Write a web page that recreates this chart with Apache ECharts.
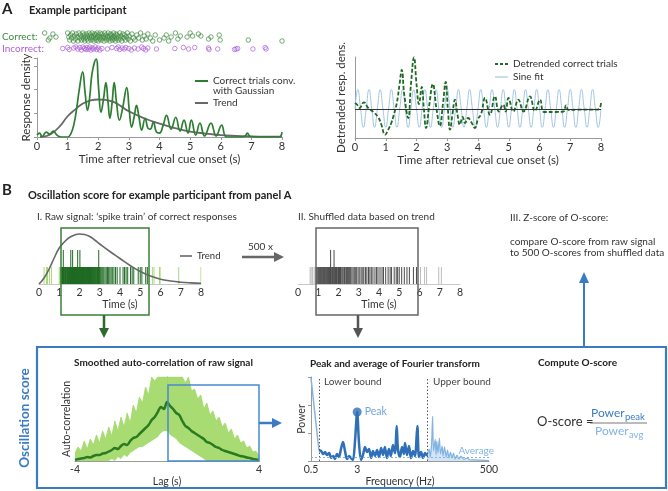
<!DOCTYPE html>
<html><head><meta charset="utf-8">
<script src="https://cdn.jsdelivr.net/npm/echarts@6/dist/echarts.min.js"></script>
<style>html,body{margin:0;padding:0;background:#fff}#c{width:668px;height:491px}</style>
</head><body><div id="c"></div>
<script>
// ---------------- DATA ----------------
const timeTicks = [0,1,2,3,4,5,6,7,8];
// Panel A: individual responses [time (s), vertical jitter 0..1]
const correctTrials = [
[0.25,0.1],[0.37,0.8],[0.42,0.6],[0.52,0.2],[0.62,0.5],
[1.00,0.1],[1.04,0.5],[1.07,0.8],[1.10,0.3],[1.13,0.6],[1.16,0.1],[1.19,0.9],[1.22,0.4],[1.25,0.7],[1.28,0.2],
[1.31,0.5],[1.34,0.9],[1.37,0.1],[1.40,0.6],[1.42,0.3],[1.45,0.8],[1.47,0.5],[1.50,0.1],[1.52,0.7],[1.54,0.3],
[1.56,0.9],[1.58,0.5],[1.61,0.2],[1.63,0.7],[1.65,0.4],[1.67,0.9],[1.70,0.1],[1.72,0.6],[1.74,0.3],[1.76,0.8],
[1.78,0.5],[1.80,0.1],[1.82,0.7],[1.84,0.4],[1.86,0.9],[1.88,0.2],[1.90,0.6],[1.92,0.3],[1.94,0.8],[1.96,0.1],
[1.98,0.5],[2.00,0.9],[2.02,0.3],[2.04,0.7],[2.06,0.1],[2.08,0.5],[2.10,0.8],[2.12,0.2],[2.15,0.6],[2.17,0.4],
[2.19,0.9],[2.21,0.1],[2.23,0.6],[2.25,0.3],[2.27,0.8],[2.30,0.5],[2.32,0.1],[2.34,0.7],[2.36,0.4],[2.38,0.9],
[2.40,0.2],[2.42,0.6],[2.44,0.3],[2.46,0.8],[2.48,0.5],[2.50,0.1],[2.52,0.7],[2.54,0.4],[2.56,0.9],[2.58,0.2],
[2.60,0.6],[2.62,0.3],[2.65,0.8],[2.67,0.5],[2.70,0.1],[2.72,0.7],[2.75,0.4],[2.77,0.9],[2.80,0.2],[2.83,0.6],
[2.86,0.3],[2.89,0.8],[2.92,0.5],[2.95,0.1],[2.98,0.7],[3.01,0.4],[3.05,0.9],[3.10,0.2],[3.15,0.6],[3.20,0.8],
[3.26,0.3],[3.32,0.6],[3.38,0.1],[3.44,0.8],[3.50,0.4],[3.56,0.7],[3.62,0.2],[3.70,0.6],[3.78,0.9],[3.86,0.3],
[4.00,0.8],[4.15,0.6],[4.22,0.3],[4.30,0.9],[4.38,0.5],[4.52,0.1],[4.60,0.7],[4.68,0.4],[4.90,0.5],[5.00,0.1],
[5.08,0.4],[5.27,0.2],[5.35,0.4],[5.60,0.7],[5.68,0.5],[5.95,0.3],[5.98,0.8],[6.90,0.8],[8.00,0.9]
];
const incorrectTrials = [
[0.84,0.5],[1.00,0.3],[1.05,0.7],[1.20,0.4],[1.27,0.2],[1.33,0.6],[1.40,0.3],[1.45,0.8],[1.50,0.2],[1.55,0.5],
[1.60,0.7],[1.63,0.3],[1.68,0.6],[1.72,0.2],[1.76,0.8],[1.80,0.4],[1.85,0.6],[1.90,0.2],[1.95,0.7],[2.00,0.4],
[2.05,0.8],[2.12,0.5],[2.30,0.6],[2.45,0.3],[2.60,0.5],[2.65,0.2],[2.70,0.7],[2.78,0.4],[2.85,0.6],[2.90,0.3],
[3.00,0.5],[3.08,0.8],[3.18,0.4],[3.30,0.6],[3.42,0.2],[3.48,0.5],[3.55,0.8],[3.62,0.4],[3.90,0.6],[4.50,0.5],
[4.78,0.3],[4.95,0.6],[5.15,0.3],[5.60,0.4],[5.62,0.7],[5.90,0.6],[6.45,0.7],[6.50,0.6],[6.55,0.5],[7.05,0.6],
[7.45,0.3],[7.48,0.6]
];
// Correct trials convolved with Gaussian [t, density]
const densityCurve = [
[0,2],[0.08,4],[0.17,0.5],[0.3,5],[0.42,3],[0.53,6],[0.65,2],[0.75,0.3],[0.85,0],[1.0,0],[1.1,3],[1.2,12],
[1.3,30],[1.38,48],[1.49,66],[1.57,45],[1.65,27],[1.72,40],[1.8,65],[1.93,79],[2.01,50],[2.09,25],[2.17,38],
[2.25,55],[2.32,35],[2.38,19],[2.45,34],[2.52,55],[2.6,34],[2.69,17],[2.8,30],[2.93,50],[3.01,28],[3.09,10],
[3.17,20],[3.25,32],[3.33,20],[3.42,7],[3.53,19],[3.62,9],[3.7,8],[3.8,15],[3.9,5],[4.0,4],[4.12,12],[4.23,22],
[4.38,8],[4.53,20],[4.67,6],[4.8,17],[4.93,4],[5.04,17],[5.18,2],[5.32,14],[5.47,1],[5.68,14],[5.85,1],[6.03,12],
[6.19,0],[6.6,0],[6.78,0.5],[6.87,4],[6.96,0.5],[7.2,0],[7.9,0],[8.0,5]
];
const trendCurve = [
[0.1,0],[0.3,1],[0.5,4],[0.75,11],[1.0,21],[1.25,28],[1.5,34],[1.75,37],[2.0,38],[2.25,37.5],[2.5,35.5],
[2.75,31],[3.0,26],[3.5,19],[4.0,13.5],[4.5,9],[5.0,5.5],[5.5,3.5],[6.0,2],[6.5,1.2],[7.0,0.7],[7.5,0.4],[8.0,0.3]
];
const detrendedCurve = [
[0,6],[0.08,4],[0.15,1],[0.29,6.7],[0.43,1],[0.6,-3],[0.75,-8],[0.85,-15],[0.98,-25.7],[1.08,-20.7],[1.18,-14],
[1.25,-7],[1.36,6],[1.45,25],[1.52,39],[1.6,15],[1.73,-9],[1.82,25],[1.92,51.7],[2.0,25],[2.08,5],[2.17,22],
[2.24,0],[2.31,-19],[2.42,5],[2.53,25],[2.65,0],[2.76,-17],[2.86,5],[2.95,27],[3.02,0],[3.09,-20.7],[3.17,-5],
[3.25,9.3],[3.33,-5],[3.41,-15.7],[3.5,-8],[3.58,-14],[3.68,-9],[3.78,-13],[3.9,-19],[4.0,-10],[4.1,-5],
[4.23,11],[4.39,-5.7],[4.55,12.7],[4.68,-2.5],[4.82,4.3],[4.9,-2.5],[4.99,11],[5.15,-2.5],[5.31,9.3],[5.48,-2.5],
[5.69,12.7],[5.85,-2],[6.02,9.3],[6.15,-3],[6.5,-3],[6.78,-2.5],[6.86,3.7],[6.95,-1],[7.2,-0.7],[7.9,-0.5],[8.0,6]
];
// Sine fit (~2.75 Hz), sampled every quarter period from t = 0
const sineStart = 0, sineStep = 8 / 88;
const sineFit = [
0,19.5,0,-18.5, 0,19.5,0,-18.5, 0,19.5,0,-18.5, 0,19.5,0,-18.5, 0,19.5,0,-18.5, 0,19.5,0,-18.5,
0,19.5,0,-18.5, 0,19.5,0,-18.5, 0,19.5,0,-18.5, 0,19.5,0,-18.5, 0,19.5,0,-18.5, 0,19.5,0,-18.5,
0,19.5,0,-18.5, 0,19.5,0,-18.5, 0,19.5,0,-18.5, 0,19.5,0,-18.5, 0,19.5,0,-18.5, 0,19.5,0,-18.5,
0,19.5,0,-18.5, 0,19.5,0,-18.5, 0,19.5,0,-18.5, 0,19.5,0,-18.5, 0
];
// Panel B-I: spike train (same correct responses), double responses
const correctDoubleSpikes = [1.20,1.57,1.66,1.91,2.02,2.95];
const rawTrend = [
[0,0],[0.25,6],[0.5,15],[0.75,26],[1.0,36],[1.25,42],[1.5,46.5],[1.75,49],[2.0,50],[2.25,49.5],[2.5,47.5],
[2.75,44],[3.0,40],[3.5,32.5],[4.0,25.5],[4.5,18.5],[5.0,12.5],[5.5,8],[6.0,4.8],[6.5,3],[7.0,1.8],[7.5,1.1],[8.0,0.7]
];
// Panel B-II: shuffled spike train
const shuffledSpikes = [
0.60,0.65,0.72,0.80,0.86,0.92,0.95,1.00,1.03,1.07,1.10,1.13,1.17,1.20,1.24,1.27,1.30,1.33,1.37,1.40,
1.44,1.47,1.50,1.53,1.56,1.60,1.63,1.67,1.70,1.74,1.78,1.82,1.85,1.90,1.93,1.97,2.00,2.05,2.10,2.13,
2.18,2.22,2.27,2.30,2.36,2.40,2.45,2.50,2.55,2.60,2.66,2.72,2.78,2.85,2.90,2.97,3.05,3.12,3.20,3.25,
3.33,3.40,3.48,3.55,3.62,3.70,3.80,3.88,3.95,4.05,4.15,4.22,4.33,4.45,4.55,4.62,4.75,4.85,4.92,5.00,
5.12,5.25,5.38,5.50,5.70,5.85,6.05,6.25,6.35,6.95,7.08
];
const shuffledDoubleSpikes = [1.61,1.78];
// Auto-correlation, lags from -4 to 4
const acLagStart = -4, acLagStep = 8 / 60;
const acSmoothed = [1,2,2.5,3,4,3.5,5,6,6,7.5, 8,9.5,11,13,12,15,17,16,20,23, 24,27,30,33,36,41,44,49,54,52,
  59,55,52,48,46,40,35,33,30,28, 26,24,22,19,18,16,14,13,11,10, 9,8,7,6,5,4.5,3.5,3,2,1.5, 1];
const acRawUpper = [8,14,10,20,12,22,16,26,18,30, 22,34,25,40,30,44,34,48,38,56, 48,64,58,74,66,84,80,84,84,84,
  84,84,84,84,84,84,78,84,70,72, 62,66,52,58,46,50,40,44,34,38, 28,32,22,26,18,20,13,15,9,10, 5];
const acRawLower = [0,0,0,0,0,0,0,0,0,0, 0,0,2,0,4,2,6,4,8,10, 12,14,14,16,18,20,22,24,28,30,
  30,26,24,22,18,16,14,12,10,8, 6,4,2,0,0,0,0,0,0,0, 0,0,0,0,0,0,0,0,0,0, 0];
// Fourier transform [frequency (Hz), power]
const freqTicks = [0.5, 3, 500];
const spectrumBelow = [[0.5,83],[0.6,40],[0.68,11]];
const spectrumInside = [
[0.68,11],[0.74,10],[0.80,7],[0.86,9],[0.93,6],[1.01,8],[1.09,3],[1.18,5],[1.27,2],[1.37,7],[1.48,4],[1.60,12],
[1.73,19],[1.87,10],[2.02,2],[2.19,5],[2.36,3],[2.55,1],[2.76,20],[3.0,49],[3.22,18],[3.48,1],[3.76,6],[4.07,14],
[4.4,9],[4.75,12],[5.14,3],[5.55,10],[6.0,5],[6.5,11],[7.0,4],[7.6,13],[8.2,6],[8.8,14],[9.5,3],[10.3,12],[11.1,5],
[12.0,16],[13.0,8],[13.9,35],[14.6,12],[15.8,4],[17.1,14],[18.4,7],[19.2,18],[20.7,6],[22.4,15],[24.2,3],[26.2,10],
[28.3,5],[31,35],[33,4],[35.8,9],[38.7,3],[41.8,8],[45.1,5]
];
const spectrumAbove = [
[45.1,5],[49,12],[51,4],[54,18],[56,45],[58,10],[62,22],[64,6],[66,20],[69,8],[73,23],[76,7],[81,15],[84,5],
[89,14],[95,4],[100,11],[106,3],[112,9],[119,3],[126,8],[134,2],[144,6],[155,2],[168,5],[189,1.5],[213,3],
[241,1],[291,1.2],[354,0.8],[500,0.5]
];
const peakPoint = [3.0, 49];
const averagePower = 4;
const lowerBound = 0.68, upperBound = 45;

// ---------------- STYLE ----------------
const FONT = 'Lato, "Open Sans", sans-serif';
const TXT = '#333';
const AX = '#9a9a9a';
const GREEN = '#2d7d32', GREEN_D = '#1e6a22', GREEN_L = '#a9d97c';
const PURPLE = '#ad5fd6';
const GRAY = '#686868';
const BLUE = '#3a7cc4', BLUE_L = '#82b3e3', SINE = '#a3c6e2';
const BOX_I = [1.09, 5.43], BOX_II = [0.89, 5.93];
const SPIKE_H = 17, SPIKE_TALL = 34;

function timeAxis(gi, extra) {
  return Object.assign({
    type: 'value', gridIndex: gi, min: 0, max: 8,
    axisLine: {show: true, onZero: false, lineStyle: {color: AX}},
    axisTick: {show: true, length: 3, lineStyle: {color: AX}, customValues: timeTicks},
    axisLabel: {color: TXT, fontSize: 11, margin: 4, fontFamily: FONT, customValues: timeTicks},
    splitLine: {show: false},
    nameLocation: 'middle', nameGap: 13,
    nameTextStyle: {color: TXT, fontSize: 11.5, fontFamily: FONT}
  }, extra || {});
}
function hiddenAxis(gi, min, max, extra) {
  return Object.assign({type: 'value', gridIndex: gi, min: min, max: max, show: false}, extra || {});
}
function yAxisPlain(gi, min, max, name, gap, extra) {
  return Object.assign({
    type: 'value', gridIndex: gi, min: min, max: max,
    axisLine: {show: true, lineStyle: {color: AX}},
    axisTick: {show: false}, axisLabel: {show: false}, splitLine: {show: false},
    name: name, nameLocation: 'middle', nameGap: gap, nameRotate: 90,
    nameTextStyle: {color: TXT, fontSize: 11.5, fontFamily: FONT}
  }, extra || {});
}

const spikeData = correctTrials.map(p => [p[0], SPIKE_H]).concat(correctDoubleSpikes.map(t => [t, SPIKE_TALL]));
const shufData = shuffledSpikes.map(t => [t, SPIKE_H]).concat(shuffledDoubleSpikes.map(t => [t, SPIKE_TALL]));
const acLag = i => acLagStart + i * acLagStep;

const option = {
  animation: false,
  textStyle: {fontFamily: FONT},
  grid: [
    {left: 37, top: 32, width: 245, height: 10},
    {left: 37, top: 46, width: 245, height: 5},
    {left: 37, top: 58, width: 245, height: 79},
    {left: 355, top: 57, width: 246, height: 81},
    {left: 39, top: 228, width: 162, height: 56},
    {left: 298, top: 228, width: 162, height: 56},
    {left: 75, top: 377, width: 184, height: 84},
    {left: 311, top: 377, width: 178, height: 84}
  ],
  xAxis: [
    hiddenAxis(0, 0, 8),
    hiddenAxis(1, 0, 8),
    timeAxis(2, {name: 'Time after retrieval cue onset (s)'}),
    timeAxis(3, {name: 'Time after retrieval cue onset (s)'}),
    timeAxis(4, {name: 'Time (s)', nameGap: 14, axisLine: {show: true, lineStyle: {color: '#c8c8c8'}},
      axisTick: {show: false}, axisLabel: {color: TXT, fontSize: 10.5, margin: 3, customValues: timeTicks},
      nameTextStyle: {color: TXT, fontSize: 10.5}}),
    timeAxis(5, {name: 'Time (s)', nameGap: 14, axisLine: {show: true, lineStyle: {color: '#c8c8c8'}},
      axisTick: {show: false}, axisLabel: {color: TXT, fontSize: 10.5, margin: 3, customValues: timeTicks},
      nameTextStyle: {color: TXT, fontSize: 10.5}}),
    {type: 'value', gridIndex: 6, min: -4, max: 4, name: 'Lag (s)', nameLocation: 'middle', nameGap: 11,
      nameTextStyle: {color: TXT, fontSize: 10.5},
      axisLine: {show: true, lineStyle: {color: AX}}, axisTick: {show: false}, splitLine: {show: false},
      axisLabel: {color: TXT, fontSize: 10.5, margin: 3, customValues: [-4, 4]}},
    {type: 'log', gridIndex: 7, min: 0.5, max: 500, logBase: 10, name: 'Frequency (Hz)', nameLocation: 'middle', nameGap: 11,
      nameTextStyle: {color: TXT, fontSize: 10.5},
      axisLine: {show: true, lineStyle: {color: AX}}, axisTick: {show: false}, splitLine: {show: false}, minorTick: {show: false},
      axisLabel: {color: TXT, fontSize: 10.5, margin: 3, customValues: freqTicks, formatter: v => String(v)}}
  ],
  yAxis: [
    hiddenAxis(0, 0, 1, {inverse: true}),
    hiddenAxis(1, 0, 1, {inverse: true}),
    yAxisPlain(2, 0, 80, 'Response density', 5, {interval: 24, axisTick: {show: true, length: 3, lineStyle: {color: AX}}}),
    yAxisPlain(3, -29, 52, 'Detrended resp. dens.', 8),
    hiddenAxis(4, 0, 56),
    hiddenAxis(5, 0, 56),
    yAxisPlain(6, 0, 84, 'Auto-correlation', 3, {interval: 28, axisTick: {show: true, length: 3, lineStyle: {color: AX}}, nameTextStyle: {color: TXT, fontSize: 10.5}}),
    yAxisPlain(7, 0, 84, 'Power', 4, {interval: 28, axisTick: {show: true, length: 3, lineStyle: {color: AX}}, nameTextStyle: {color: TXT, fontSize: 10.5}})
  ],
  series: [
    {type: 'scatter', xAxisIndex: 0, yAxisIndex: 0, data: correctTrials, symbol: 'circle', symbolSize: 4.5,
      itemStyle: {color: 'rgba(0,0,0,0)', borderColor: '#3f8a3f', borderWidth: 0.9}},
    {type: 'scatter', xAxisIndex: 1, yAxisIndex: 1, data: incorrectTrials, symbol: 'circle', symbolSize: 4.5,
      itemStyle: {color: 'rgba(0,0,0,0)', borderColor: PURPLE, borderWidth: 0.9}},
    {type: 'line', xAxisIndex: 2, yAxisIndex: 2, data: trendCurve, smooth: true, showSymbol: false,
      lineStyle: {color: GRAY, width: 1.8}, z: 2},
    {type: 'line', xAxisIndex: 2, yAxisIndex: 2, data: densityCurve, smooth: 0.45, showSymbol: false,
      lineStyle: {color: GREEN, width: 1.7}, z: 3},
    {type: 'line', xAxisIndex: 3, yAxisIndex: 3, data: sineFit.map((v, i) => [sineStart + i * sineStep, v]),
      smooth: true, showSymbol: false, lineStyle: {color: SINE, width: 1}, z: 2,
      markLine: {silent: true, symbol: 'none', label: {show: false}, lineStyle: {color: '#333', width: 1, type: 'solid'},
        data: [{yAxis: 0}]}},
    {type: 'line', xAxisIndex: 3, yAxisIndex: 3, data: detrendedCurve, smooth: 0.45, showSymbol: false,
      lineStyle: {color: GREEN_D, width: 1.8, type: [4, 2]}, z: 3},
    {type: 'bar', xAxisIndex: 4, yAxisIndex: 4, data: spikeData, barWidth: 1,
      itemStyle: {color: p => (p.value[0] >= BOX_I[0] && p.value[0] <= BOX_I[1]) ? GREEN_D : GREEN_L}},
    {type: 'line', xAxisIndex: 4, yAxisIndex: 4, data: rawTrend, smooth: true, showSymbol: false,
      lineStyle: {color: GRAY, width: 1.6}, z: 3},
    {type: 'bar', xAxisIndex: 5, yAxisIndex: 5, data: shufData, barWidth: 1,
      itemStyle: {color: p => (p.value[0] >= BOX_II[0] && p.value[0] <= BOX_II[1]) ? '#4a4a4a' : '#bdbdbd'}},
    // raw auto-correlation band: upper envelope filled, lower gap cut out in white
    {type: 'line', xAxisIndex: 6, yAxisIndex: 6, data: acRawUpper.map((v, i) => [acLag(i), v]),
      showSymbol: false, lineStyle: {width: 0.8, color: '#9fd866'}, areaStyle: {color: '#a3da6c', opacity: 0.95}, z: 1},
    {type: 'line', xAxisIndex: 6, yAxisIndex: 6, data: acRawLower.map((v, i) => [acLag(i), v]),
      showSymbol: false, lineStyle: {width: 0}, areaStyle: {color: '#ffffff', opacity: 1}, z: 2},
    {type: 'line', xAxisIndex: 6, yAxisIndex: 6, data: acSmoothed.map((v, i) => [acLag(i), v]), smooth: 0.3,
      showSymbol: false, lineStyle: {color: '#2a7a22', width: 2.5}, z: 3},
    {type: 'line', xAxisIndex: 7, yAxisIndex: 7, data: spectrumBelow, showSymbol: false,
      lineStyle: {color: BLUE_L, width: 1.5}},
    {type: 'line', xAxisIndex: 7, yAxisIndex: 7, data: spectrumAbove, showSymbol: false, smooth: 0.2,
      lineStyle: {color: BLUE_L, width: 1.2}, areaStyle: {color: BLUE_L, opacity: 0.35}},
    {type: 'line', xAxisIndex: 7, yAxisIndex: 7, data: spectrumInside, showSymbol: false, smooth: 0.3,
      lineStyle: {color: '#2f6fb8', width: 2.5}, z: 3,
      markLine: {silent: true, symbol: 'none', label: {show: false},
        data: [
          {xAxis: lowerBound, lineStyle: {color: '#555', width: 1, type: [1.5, 2]}},
          {xAxis: upperBound, lineStyle: {color: '#555', width: 1, type: [1.5, 2]}},
          {yAxis: averagePower, lineStyle: {color: BLUE_L, width: 1, type: [2, 2]}}
        ]}},
    {type: 'scatter', xAxisIndex: 7, yAxisIndex: 7, data: [peakPoint], symbolSize: 9, z: 4,
      itemStyle: {color: '#2f6fb8'},
      label: {show: true, position: 'right', distance: 3, formatter: 'Peak', color: '#4a8fd6', fontSize: 10.5}}
  ],
  graphic: {elements: []}
};

// ---------------- ANNOTATIONS ----------------
const G = option.graphic.elements;
function T(x, y, s, o) {
  G.push({type: 'text', x: x, y: y, z: 100, rotation: (o && o.rot) || 0,
    style: Object.assign({text: s, fill: TXT, fontSize: 10.5, fontFamily: FONT, align: 'left', verticalAlign: 'middle'}, o || {})});
}
function L(x1, y1, x2, y2, c, w, dash) {
  G.push({type: 'line', z: 100, shape: {x1: x1, y1: y1, x2: x2, y2: y2}, style: {stroke: c, lineWidth: w, lineDash: dash || null}});
}
function P(pts, c) { G.push({type: 'polygon', z: 100, shape: {points: pts}, style: {fill: c}}); }
function R(x, y, w, h, c, lw) {
  G.push({type: 'rect', z: 99, shape: {x: x, y: y, width: w, height: h}, style: {fill: 'none', stroke: c, lineWidth: lw}});
}

T(2, 9, 'A', {fontSize: 15, fontWeight: 'bold', fill: '#222'});
T(29, 10, 'Example participant', {fontSize: 11, fontWeight: 'bold', fill: '#222'});
T(2, 37, 'Correct:', {fontSize: 10, fill: '#3f8a3f'});
T(2, 49, 'Incorrect:', {fontSize: 10, fill: PURPLE});
L(195, 81, 208, 81, GREEN, 2); T(213, 81, 'Correct trials conv.', {fontSize: 10});
T(213, 91, 'with Gaussian', {fontSize: 10});
L(195, 103, 208, 103, GRAY, 2); T(213, 103, 'Trend', {fontSize: 10});
L(495, 64, 508, 64, GREEN_D, 2, [3, 2]); T(513, 64, 'Detrended correct trials', {fontSize: 10});
L(495, 77, 508, 77, SINE, 1.2); T(513, 77, 'Sine fit', {fontSize: 10});

T(2, 190, 'B', {fontSize: 15, fontWeight: 'bold', fill: '#222'});
T(28, 195, 'Oscillation score for example participant from panel A', {fontSize: 11, fontWeight: 'bold', fill: '#222'});
T(37, 217, 'I. Raw signal: \u2018spike train\u2019 of correct responses', {fontSize: 10});
T(298, 217, 'II. Shuffled data based on trend', {fontSize: 10});
T(510, 218, 'III. Z-score of O-score:', {fontSize: 10});
T(510, 242, 'compare O-score from raw signal', {fontSize: 10});
T(510, 253, 'to 500 O-scores from shuffled data', {fontSize: 10});
T(248, 247, '500 x', {fontSize: 10});
L(180, 256, 192, 256, GRAY, 1.6); T(197, 256, 'Trend', {fontSize: 9.5});

R(61, 228, 88, 87, '#3d7f3d', 1.5);
R(316, 228, 102, 87, '#666', 1.5);
// arrows
L(242, 257, 275, 257, '#666', 2.5); P([[274, 252], [284, 257], [274, 262]], '#666');
L(104, 315, 104, 330, '#2d6a2d', 2.5); P([[99, 328], [104, 338], [109, 328]], '#2d6a2d');
L(358, 315, 358, 330, '#555', 2.5); P([[353, 328], [358, 338], [363, 328]], '#555');
L(584, 347, 584, 282, BLUE, 2); P([[579, 283], [584, 272], [589, 283]], BLUE);

// O-score box
R(37, 347, 629, 141, BLUE, 2.2);
T(25, 418, 'Oscillation score', {fontSize: 13.5, fontWeight: 'bold', fill: BLUE, align: 'center', rot: Math.PI / 2});
T(74, 363, 'Smoothed auto-correlation of raw signal', {fontSize: 10, fontWeight: 'bold', fill: '#222'});
T(310, 364, 'Peak and average of Fourier transform', {fontSize: 10, fontWeight: 'bold', fill: '#222'});
T(538, 363, 'Compute O-score', {fontSize: 10, fontWeight: 'bold', fill: '#222'});
R(168, 385, 91, 76, '#4a8ad0', 1.5);
L(259, 423, 274, 423, BLUE, 2.5); P([[272, 418], [282, 423], [272, 428]], BLUE);
T(324, 382, 'Lower bound', {fontSize: 10, fill: '#444'});
T(433, 382, 'Upper bound', {fontSize: 10, fill: '#444'});
T(494, 451, 'Average', {fontSize: 10, fill: BLUE_L, align: 'right'});
T(537, 422, 'O-score =', {fontSize: 13});
T(591, 413, 'Power', {fontSize: 12, fill: BLUE});
T(625, 417, 'peak', {fontSize: 9.5, fill: BLUE});
L(590, 423, 647, 423, '#555', 0.8);
T(595, 431, 'Power', {fontSize: 12, fill: BLUE_L});
T(629, 435, 'avg', {fontSize: 9.5, fill: BLUE_L});

const chart = echarts.init(document.getElementById('c'), null, {renderer: 'canvas'});
chart.setOption(option);
</script>
</body></html>
